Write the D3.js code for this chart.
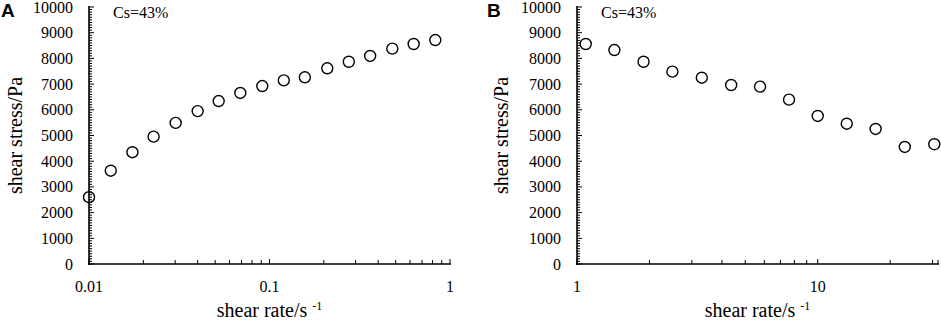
<!DOCTYPE html>
<html lang="en">
<head>
<meta charset="utf-8">
<title>shear stress vs shear rate</title>
<style>
  body { margin: 0; background: #fff; }
  svg { display: block; }
  .tick-label { font-family: "Liberation Serif", "Times New Roman", serif; font-size: 16px; fill: #000; }
  .axis-title { font-family: "Liberation Serif", "Times New Roman", serif; font-size: 20px; fill: #000; }
  .panel-tag { font-family: "Liberation Sans", Arial, sans-serif; font-size: 19px; font-weight: bold; fill: #000; }
</style>
<script src="https://d3js.org/d3.v7.min.js"></script>
</head>
<body>
<script>
// panel A: shear rate 0.01 - 1
let rateA = [0.01, 0.0132, 0.0174, 0.0228, 0.0302, 0.040, 0.0523, 0.0689, 0.0912, 0.120, 0.157, 0.209, 0.275, 0.361, 0.479, 0.629, 0.829]
let stressA = [2600, 3630, 4350, 4955, 5490, 5950, 6340, 6655, 6925, 7145, 7265, 7615, 7870, 8095, 8380, 8560, 8715]

// panel B: shear rate 1 - 30
let rateB = [1.087, 1.43, 1.89, 2.49, 3.30, 4.37, 5.76, 7.60, 10.0, 13.2, 17.4, 23.0, 30.5]
let stressB = [8560, 8325, 7870, 7485, 7250, 6965, 6900, 6395, 5760, 5460, 5255, 4555, 4660]

let yMajorTicks = [0, 1000, 2000, 3000, 4000, 5000, 6000, 7000, 8000, 9000, 10000]
let xLabelsA = [0.01, 0.1, 1]
let xLabelsB = [1, 10]
let panelNote = "Cs=43%"

let width = 941
let height = 321
let plotTop = 7, plotBottom = 264

let svg = d3.select("body").append("svg")
    .attr("width", width)
    .attr("height", height)

let drawPanel = (opt) => {
    let g = svg.append("g")
    let x = d3.scaleLog().domain(opt.domain).range([opt.left, opt.right])
    let y = d3.scaleLinear().domain([0, 10000]).range([plotBottom, plotTop])

    // y minor + major ticks, pointing inward
    let yMinor = d3.range(0, 10001, 100)
    g.append("g").selectAll("line").data(yMinor).enter().append("line")
        .attr("x1", opt.left).attr("x2", (d) => opt.left + (d % 1000 === 0 ? 5 : 3))
        .attr("y1", (d) => y(d)).attr("y2", (d) => y(d))
        .attr("stroke", "#000").attr("stroke-width", 1)

    g.append("g").selectAll("text").data(yMajorTicks).enter().append("text")
        .attr("class", "tick-label")
        .attr("x", opt.left - 16)
        .attr("y", (d) => y(d) + 5.5)
        .attr("text-anchor", "end")
        .text((d) => d)

    // x ticks: decade majors + 2..9 minors
    let xTicks = []
    let lo = Math.log10(opt.domain[0]), hi = Math.log10(opt.domain[1])
    for (let e = Math.floor(lo); e <= Math.ceil(hi); e++) {
        for (let m = 1; m <= 9; m++) {
            let v = m * Math.pow(10, e)
            if (v >= opt.domain[0] - 1e-12 && v <= opt.domain[1] + 1e-12) xTicks.push({v: v, major: m === 1})
        }
    }
    if (opt.endTick) xTicks.push({v: opt.domain[1], major: false})
    g.append("g").selectAll("line").data(xTicks).enter().append("line")
        .attr("x1", (d) => x(d.v)).attr("x2", (d) => x(d.v))
        .attr("y1", plotBottom).attr("y2", (d) => plotBottom - (d.major ? 5 : 4))
        .attr("stroke", "#000").attr("stroke-width", 1)

    g.append("g").selectAll("text").data(opt.xLabels).enter().append("text")
        .attr("class", "tick-label")
        .attr("x", (d) => x(d))
        .attr("y", 292)
        .attr("text-anchor", "middle")
        .text((d) => d)

    // axis lines
    g.append("line").attr("x1", opt.left).attr("x2", opt.left)
        .attr("y1", plotTop - 1).attr("y2", plotBottom + 1)
        .attr("stroke", "#000").attr("stroke-width", 1.6)
    g.append("line").attr("x1", opt.left - 1).attr("x2", opt.right + 1)
        .attr("y1", plotBottom).attr("y2", plotBottom)
        .attr("stroke", "#000").attr("stroke-width", 1.6)

    // data points
    g.append("g").selectAll("circle").data(opt.rates).enter().append("circle")
        .attr("cx", (d) => x(d))
        .attr("cy", (d, i) => y(opt.stress[i]))
        .attr("r", 5.5)
        .attr("fill", "none")
        .attr("stroke", "#000")
        .attr("stroke-width", 1.4)

    // titles
    let titleX = (opt.left + opt.right) / 2
    let xt = g.append("text").attr("class", "axis-title")
        .attr("x", titleX).attr("y", 317).attr("text-anchor", "middle")
    xt.append("tspan").text("shear rate/s ")
    xt.append("tspan").attr("dy", -7).attr("font-size", "12px").text("-1")

    g.append("text").attr("class", "axis-title")
        .attr("transform", `translate(${opt.tagX + 21},${(plotTop + plotBottom) / 2}) rotate(-90)`)
        .attr("text-anchor", "middle")
        .text("shear stress/Pa")

    g.append("text").attr("class", "panel-tag")
        .attr("x", opt.tagX).attr("y", 17).text(opt.tag)

    g.append("text").attr("class", "tick-label")
        .attr("x", opt.left + 24).attr("y", 18)
        .text(panelNote)
}

drawPanel({tag: "A", tagX: 1, left: 89, right: 450, domain: [0.01, 1], rates: rateA, stress: stressA, xLabels: xLabelsA})
drawPanel({tag: "B", tagX: 487, left: 577, right: 938, domain: [1, 31.6], rates: rateB, stress: stressB, xLabels: xLabelsB, endTick: true})
</script>
</body>
</html>
